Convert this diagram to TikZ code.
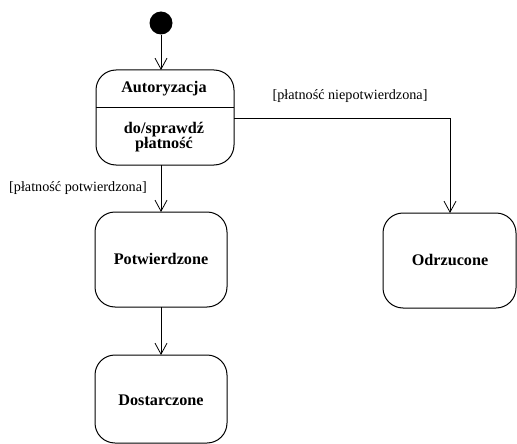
\documentclass[tikz,border=0pt]{standalone}
\usepackage{fontspec}
\setmainfont{Liberation Serif}
\usetikzlibrary{arrows.meta,calc}
\begin{document}
\begin{tikzpicture}[x=1pt,y=-1pt,
  state/.style={draw,line width=1pt,rounded corners=20pt},
  lbl/.style={font=\fontsize{14.2}{16}\selectfont},
  stname/.style={font=\bfseries\fontsize{16.2}{18}\selectfont},
  trans/.style={draw,line width=0.8pt,-{Straight Barb[length=11pt,width=12pt,line width=0.8pt]}}]
\useasboundingbox (0,0) rectangle (517,444);
% initial state
\node[circle,fill=black,minimum size=23pt,inner sep=0pt] (init) at (161,23) {};
% Autoryzacja
\draw[state] (96,70) rectangle (234,165);
\coordinate (autTop) at (161,70);
\coordinate (autBot) at (161,165);
\coordinate (autRight) at (234,118);
\draw[line width=0.8pt] (96,107) -- (234,107);
\node[stname] (aut) at (164,89) {Autoryzacja};
\node[stname,align=center] (act) at (164,137) {do/sprawdź\\[-3pt]płatność};
% Potwierdzone
\draw[state] (95,212) rectangle (227,307);
\node[stname] (pot) at (161,259) {Potwierdzone};
\coordinate (potTop) at (161,212);
\coordinate (potBot) at (161,307);
% Dostarczone
\draw[state] (95,355) rectangle (227,443);
\node[stname] (dos) at (161,400) {Dostarczone};
\coordinate (dosTop) at (161,355);
% Odrzucone
\draw[state] (383,213) rectangle (516,308);
\node[stname] (odr) at (450,260) {Odrzucone};
\coordinate (odrTop) at (450,213);
% transitions
\draw[trans] (init) -- (autTop);
\draw[trans] (autBot) -- (potTop);
\draw[trans] (potBot) -- (dosTop);
\draw[trans] (autRight) -| (odrTop);
\node[lbl] (l1) at (350,96) {[płatność niepotwierdzona]};
\node[lbl] (l2) at (78,188) {[płatność potwierdzona]};
\end{tikzpicture}
\end{document}
